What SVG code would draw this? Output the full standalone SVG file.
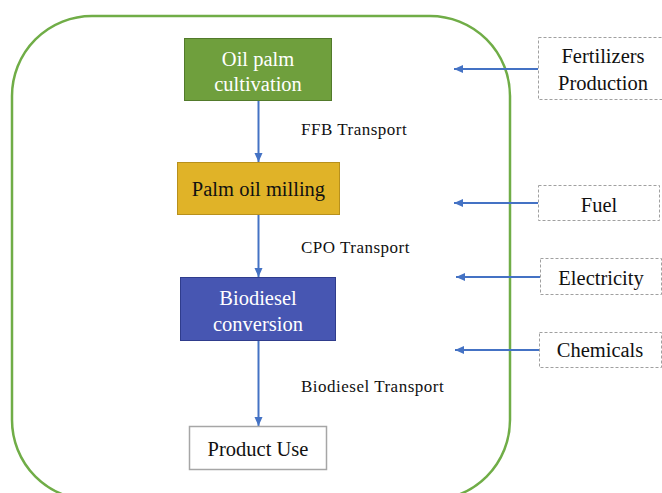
<svg xmlns="http://www.w3.org/2000/svg" width="662" height="493" viewBox="0 0 662 493" font-family="Liberation Serif">
<style>
.t{font-family:"Liberation Serif",serif;font-size:20.5px;text-anchor:middle;}
.w{fill:#ffffff;}
.k{fill:#111111;}
.lbl{font-family:"Liberation Serif",serif;font-size:17px;letter-spacing:0.5px;fill:#111111;}
.dash{fill:#ffffff;stroke:#a0a0a0;stroke-width:1;stroke-dasharray:3 2;}
.conn{stroke:#4472c4;stroke-width:2;fill:none;}
</style>
<defs>
<marker id="ah" markerWidth="10" markerHeight="10" refX="9" refY="5" orient="auto" markerUnits="userSpaceOnUse">
<path d="M0,1 L9,5 L0,9 Z" fill="#4472c4"/>
</marker>
</defs>
<rect width="662" height="493" fill="#ffffff"/>
<g id="boundary">
<rect x="12" y="16" width="498" height="484" rx="80" ry="80" fill="none" stroke="#70ad47" stroke-width="2.5"/>
</g>
<g id="connectors">
<line class="conn" x1="258.5" y1="101" x2="258.5" y2="162" marker-end="url(#ah)"/>
<line class="conn" x1="258.5" y1="215" x2="258.5" y2="277" marker-end="url(#ah)"/>
<line class="conn" x1="258.5" y1="341" x2="258.5" y2="426" marker-end="url(#ah)"/>
<line class="conn" x1="538" y1="69" x2="454" y2="69" marker-end="url(#ah)"/>
<line class="conn" x1="538" y1="203" x2="454" y2="203" marker-end="url(#ah)"/>
<line class="conn" x1="540" y1="277" x2="456" y2="277" marker-end="url(#ah)"/>
<line class="conn" x1="539" y1="350" x2="455" y2="350" marker-end="url(#ah)"/>
<text class="lbl" x="301" y="135">FFB Transport</text>
<text class="lbl" x="301" y="253">CPO Transport</text>
<text class="lbl" x="301" y="392">Biodiesel Transport</text>
</g>
<g id="cultivation">
<rect x="184.5" y="38.5" width="147" height="62" fill="#6f9f3d" stroke="#527a2b" stroke-width="1"/>
<text class="t w" x="258" y="66">Oil palm</text>
<text class="t w" x="258" y="91">cultivation</text>
</g>
<g id="milling">
<rect x="177.5" y="162.5" width="162" height="52" fill="#e0b328" stroke="#b8901c" stroke-width="1"/>
<text class="t k" x="258.5" y="196">Palm oil milling</text>
</g>
<g id="conversion">
<rect x="180.5" y="277.5" width="155" height="63" fill="#4756b2" stroke="#2f3c8c" stroke-width="1"/>
<text class="t w" x="258" y="305">Biodiesel</text>
<text class="t w" x="258" y="331">conversion</text>
</g>
<g id="product-use">
<rect x="189.5" y="426.5" width="137" height="43" fill="#ffffff" stroke="#a6a6a6" stroke-width="1.5"/>
<text class="t k" x="258" y="456">Product Use</text>
</g>
<g id="fertilizers">
<rect class="dash" x="538.5" y="37.5" width="126" height="62"/>
<text class="t k" x="603" y="63">Fertilizers</text>
<text class="t k" x="603" y="90">Production</text>
</g>
<g id="fuel">
<rect class="dash" x="538.5" y="185.5" width="121" height="35"/>
<text class="t k" x="599" y="212">Fuel</text>
</g>
<g id="electricity">
<rect class="dash" x="540.5" y="258.5" width="121" height="36"/>
<text class="t k" x="601" y="285">Electricity</text>
</g>
<g id="chemicals">
<rect class="dash" x="539.5" y="332.5" width="122" height="35"/>
<text class="t k" x="600" y="357">Chemicals</text>
</g>
</svg>
